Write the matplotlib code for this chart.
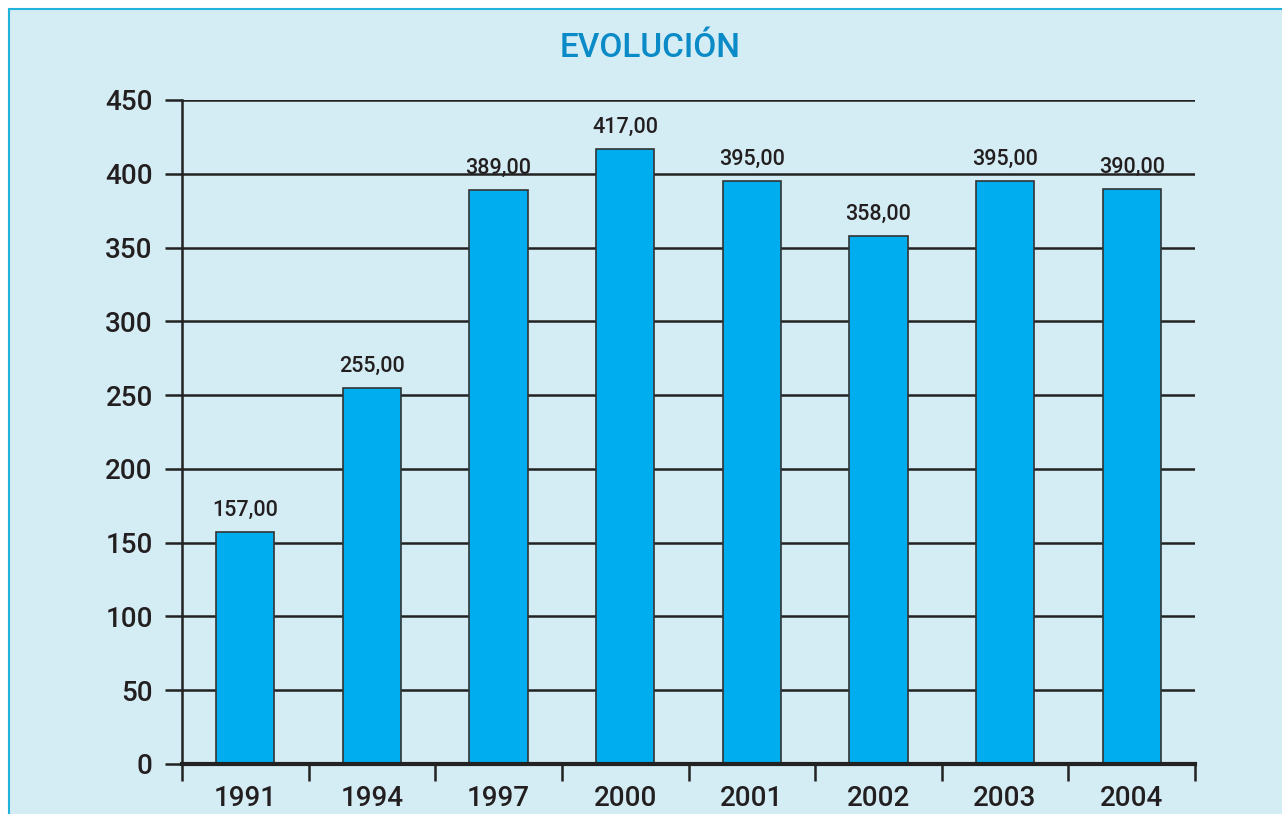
import numpy as np
import matplotlib
matplotlib.use('Agg')
import matplotlib.pyplot as plt
from matplotlib.patches import Rectangle

years = ['1991', '1994', '1997', '2000', '2001', '2002', '2003', '2004']
values = [157, 255, 389, 417, 395, 358, 395, 390]
labels = ['157,00', '255,00', '389,00', '417,00', '395,00', '358,00', '395,00', '390,00']
y_ticks = [0, 50, 100, 150, 200, 250, 300, 350, 400, 450]

BG = '#d4edf4'
BORDER = '#22b3dc'
BAR = '#00aeef'
TXT = '#231f20'
TITLE = '#0a8ac6'

plt.rcParams['font.family'] = ['Roboto', 'DejaVu Sans']

W, H = 1282, 814
fig = plt.figure(figsize=(W / 100, H / 100), dpi=100)
fig.patch.set_facecolor('white')

# light blue panel with border at top and left
panel = Rectangle((9 / W, -0.05), 1.1, 1.05 - 9 / H, transform=fig.transFigure,
                  facecolor=BG, edgecolor=BORDER, linewidth=1.5, zorder=-10)
fig.patches.append(panel)

ax = fig.add_axes([182 / W, 1 - 764 / H, (1195 - 182) / W, (764 - 100) / H])
ax.set_facecolor('none')
ax.set_zorder(2)

x = np.arange(len(years))
ax.bar(x, values, width=0.46, color=BAR, edgecolor='#333333', linewidth=1.2, zorder=3)

for xi, v, lab in zip(x, values, labels):
    ax.annotate(lab, (xi, v), xytext=(0, 8), textcoords='offset points',
                ha='center', va='bottom', fontsize=15.5, fontweight='medium', color=TXT)

ax.set_xlim(-0.5, len(years) - 0.5)
ax.set_ylim(0, 450)
ax.set_yticks(y_ticks)
ax.set_yticklabels([str(t) for t in y_ticks], fontsize=20, fontweight='medium', color=TXT)
ax.yaxis.grid(True, color='#222222', linewidth=1.8, zorder=1)
ax.tick_params(axis='y', direction='out', length=12, width=1.8, color='#222222', pad=9)

ax.set_xticks(x)
ax.set_xticklabels(years, fontsize=20, fontweight='medium', color=TXT)
ax.set_xticks(np.arange(len(years) + 1) - 0.5, minor=True)
ax.tick_params(axis='x', which='major', length=0, pad=15)
ax.tick_params(axis='x', which='minor', direction='out', length=12, width=1.8, color='#222222')

for s in ['top', 'right']:
    ax.spines[s].set_visible(False)
ax.spines['left'].set_linewidth(1.8)
ax.spines['left'].set_color('#222222')
ax.spines['bottom'].set_linewidth(3)
ax.spines['bottom'].set_color('#222222')
ax.spines['bottom'].set_zorder(4)

fig.text(650 / W, 1 - 48 / H, 'EVOLUCIÓN', ha='center', va='center',
         fontsize=24, fontweight='medium', color=TITLE)

fig.savefig('out.png', dpi=100, facecolor=fig.get_facecolor())
